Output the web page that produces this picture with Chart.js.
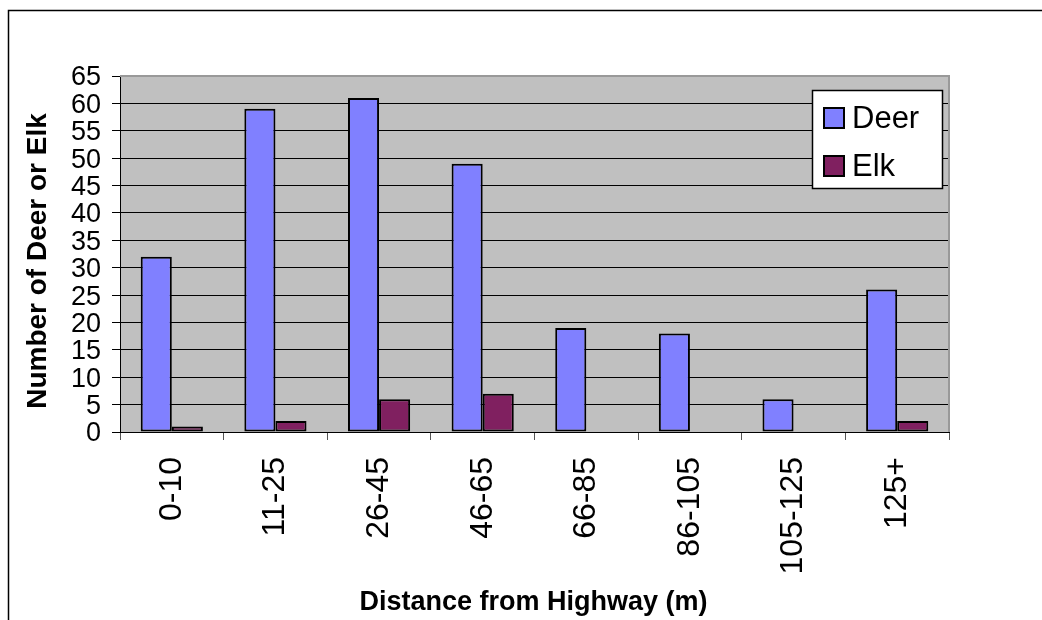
<!DOCTYPE html>
<html>
<head>
<meta charset="utf-8">
<script src="https://cdn.jsdelivr.net/npm/chart.js@4.4.0/dist/chart.umd.min.js"></script>
<style>
  html, body { margin: 0; padding: 0; background: #ffffff; }
  #wrap { width: 1042px; height: 620px; position: relative; }
</style>
</head>
<body>
<div id="wrap"><canvas id="chart" width="1042" height="620"></canvas></div>
<script>
// Sightings by distance band
const categories = ['0-10', '11-25', '26-45', '46-65', '66-85', '86-105', '105-125', '125+'];
const deerCounts = [32, 59, 61, 49, 19, 18, 6, 26];
const elkCounts = [1, 2, 6, 7, 0, 0, 0, 2];
const seriesNames = ['Deer', 'Elk'];
const seriesColors = ['#8080FF', '#802060'];
const yMin = 0;
const yMax = 65;
const yStep = 5;
const xTitle = 'Distance from Highway (m)';
const yTitle = 'Number of Deer or Elk';

const FONT = '"Liberation Sans", Arial, Helvetica, sans-serif';

// Background, outer frame and grey plot area
const framePlugin = {
  id: 'frame',
  beforeDraw(chart) {
    const { ctx, chartArea: a } = chart;
    ctx.save();
    ctx.fillStyle = '#ffffff';
    ctx.fillRect(0, 0, chart.width, chart.height);
    ctx.strokeStyle = '#000000';
    ctx.lineWidth = 1.5;
    ctx.strokeRect(8.5, 10.5, chart.width + 20, chart.height + 20);
    ctx.fillStyle = '#C0C0C0';
    ctx.fillRect(a.left, a.top, a.right - a.left, a.bottom - a.top);
    ctx.restore();
  },
  afterDatasetsDraw(chart) {
    const { ctx, chartArea: a } = chart;
    ctx.save();
    ctx.strokeStyle = '#999999';
    ctx.lineWidth = 2;
    ctx.beginPath();
    ctx.moveTo(a.left, a.top);
    ctx.lineTo(a.right, a.top);
    ctx.lineTo(a.right, a.bottom);
    ctx.stroke();
    ctx.restore();
  }
};

// Axis titles and the boxed legend
const annotatePlugin = {
  id: 'annotate',
  afterDraw(chart) {
    const { ctx, chartArea: a } = chart;
    ctx.save();
    ctx.fillStyle = '#000000';
    ctx.textAlign = 'center';
    ctx.textBaseline = 'middle';

    ctx.font = 'bold 27px ' + FONT;
    ctx.fillText(xTitle, (a.left + a.right) / 2 - 1, 603);

    ctx.save();
    ctx.translate(38, 261);
    ctx.rotate(-Math.PI / 2);
    ctx.font = 'bold 28px ' + FONT;
    ctx.fillText(yTitle, 0, 0);
    ctx.restore();

    // legend
    const lx = 812, ly = 90, lw = 130, lh = 98;
    ctx.fillStyle = '#ffffff';
    ctx.fillRect(lx, ly, lw, lh);
    ctx.strokeStyle = '#000000';
    ctx.lineWidth = 1.5;
    ctx.strokeRect(lx + 0.5, ly + 0.5, lw, lh);
    ctx.font = '31px ' + FONT;
    ctx.textAlign = 'left';
    chart.data.datasets.forEach((ds, i) => {
      const cy = 118 + i * 48;
      ctx.fillStyle = ds.backgroundColor;
      ctx.fillRect(824, cy - 10, 20, 20);
      ctx.strokeStyle = '#000000';
      ctx.lineWidth = 2;
      ctx.strokeRect(824, cy - 10, 20, 20);
      ctx.fillStyle = '#000000';
      ctx.fillText(ds.label, 852, cy + 1);
    });
    ctx.restore();
  }
};

new Chart(document.getElementById('chart'), {
  type: 'bar',
  data: {
    labels: categories,
    datasets: [
      { label: seriesNames[0], data: deerCounts, backgroundColor: seriesColors[0] },
      { label: seriesNames[1], data: elkCounts, backgroundColor: seriesColors[1] }
    ]
  },
  options: {
    responsive: false,
    animation: false,
    devicePixelRatio: 1,
    layout: { padding: { top: 76, right: 93, left: 0, bottom: 0 } },
    datasets: {
      bar: {
        categoryPercentage: 0.6,
        barPercentage: 1.0,
        borderColor: '#000000',
        borderWidth: 2,
        borderSkipped: false
      }
    },
    plugins: {
      legend: { display: false },
      tooltip: { enabled: false },
      title: { display: false }
    },
    scales: {
      x: {
        offset: true,
        afterFit(scale) { scale.height = 188; },
        grid: {
          offset: true,
          drawOnChartArea: false,
          drawTicks: true,
          tickLength: 8,
          color: '#555555'
        },
        border: { display: true, color: '#000000', width: 1 },
        ticks: {
          autoSkip: false,
          minRotation: 90,
          maxRotation: 90,
          padding: 17,
          color: '#000000',
          font: { family: FONT, size: 32 }
        }
      },
      y: {
        min: yMin,
        max: yMax,
        afterFit(scale) { scale.width = 120; },
        grid: {
          drawTicks: true,
          tickLength: 8,
          color: (c) => (c.tick && c.tick.value === yMax ? 'rgba(0,0,0,0)' : '#000000'),
          tickColor: '#000000'
        },
        border: { display: true, color: '#000000', width: 1 },
        ticks: {
          stepSize: yStep,
          autoSkip: false,
          padding: 11,
          labelOffset: 2,
          color: '#000000',
          font: { family: FONT, size: 27 }
        }
      }
    }
  },
  plugins: [framePlugin, annotatePlugin]
});
</script>
</body>
</html>
